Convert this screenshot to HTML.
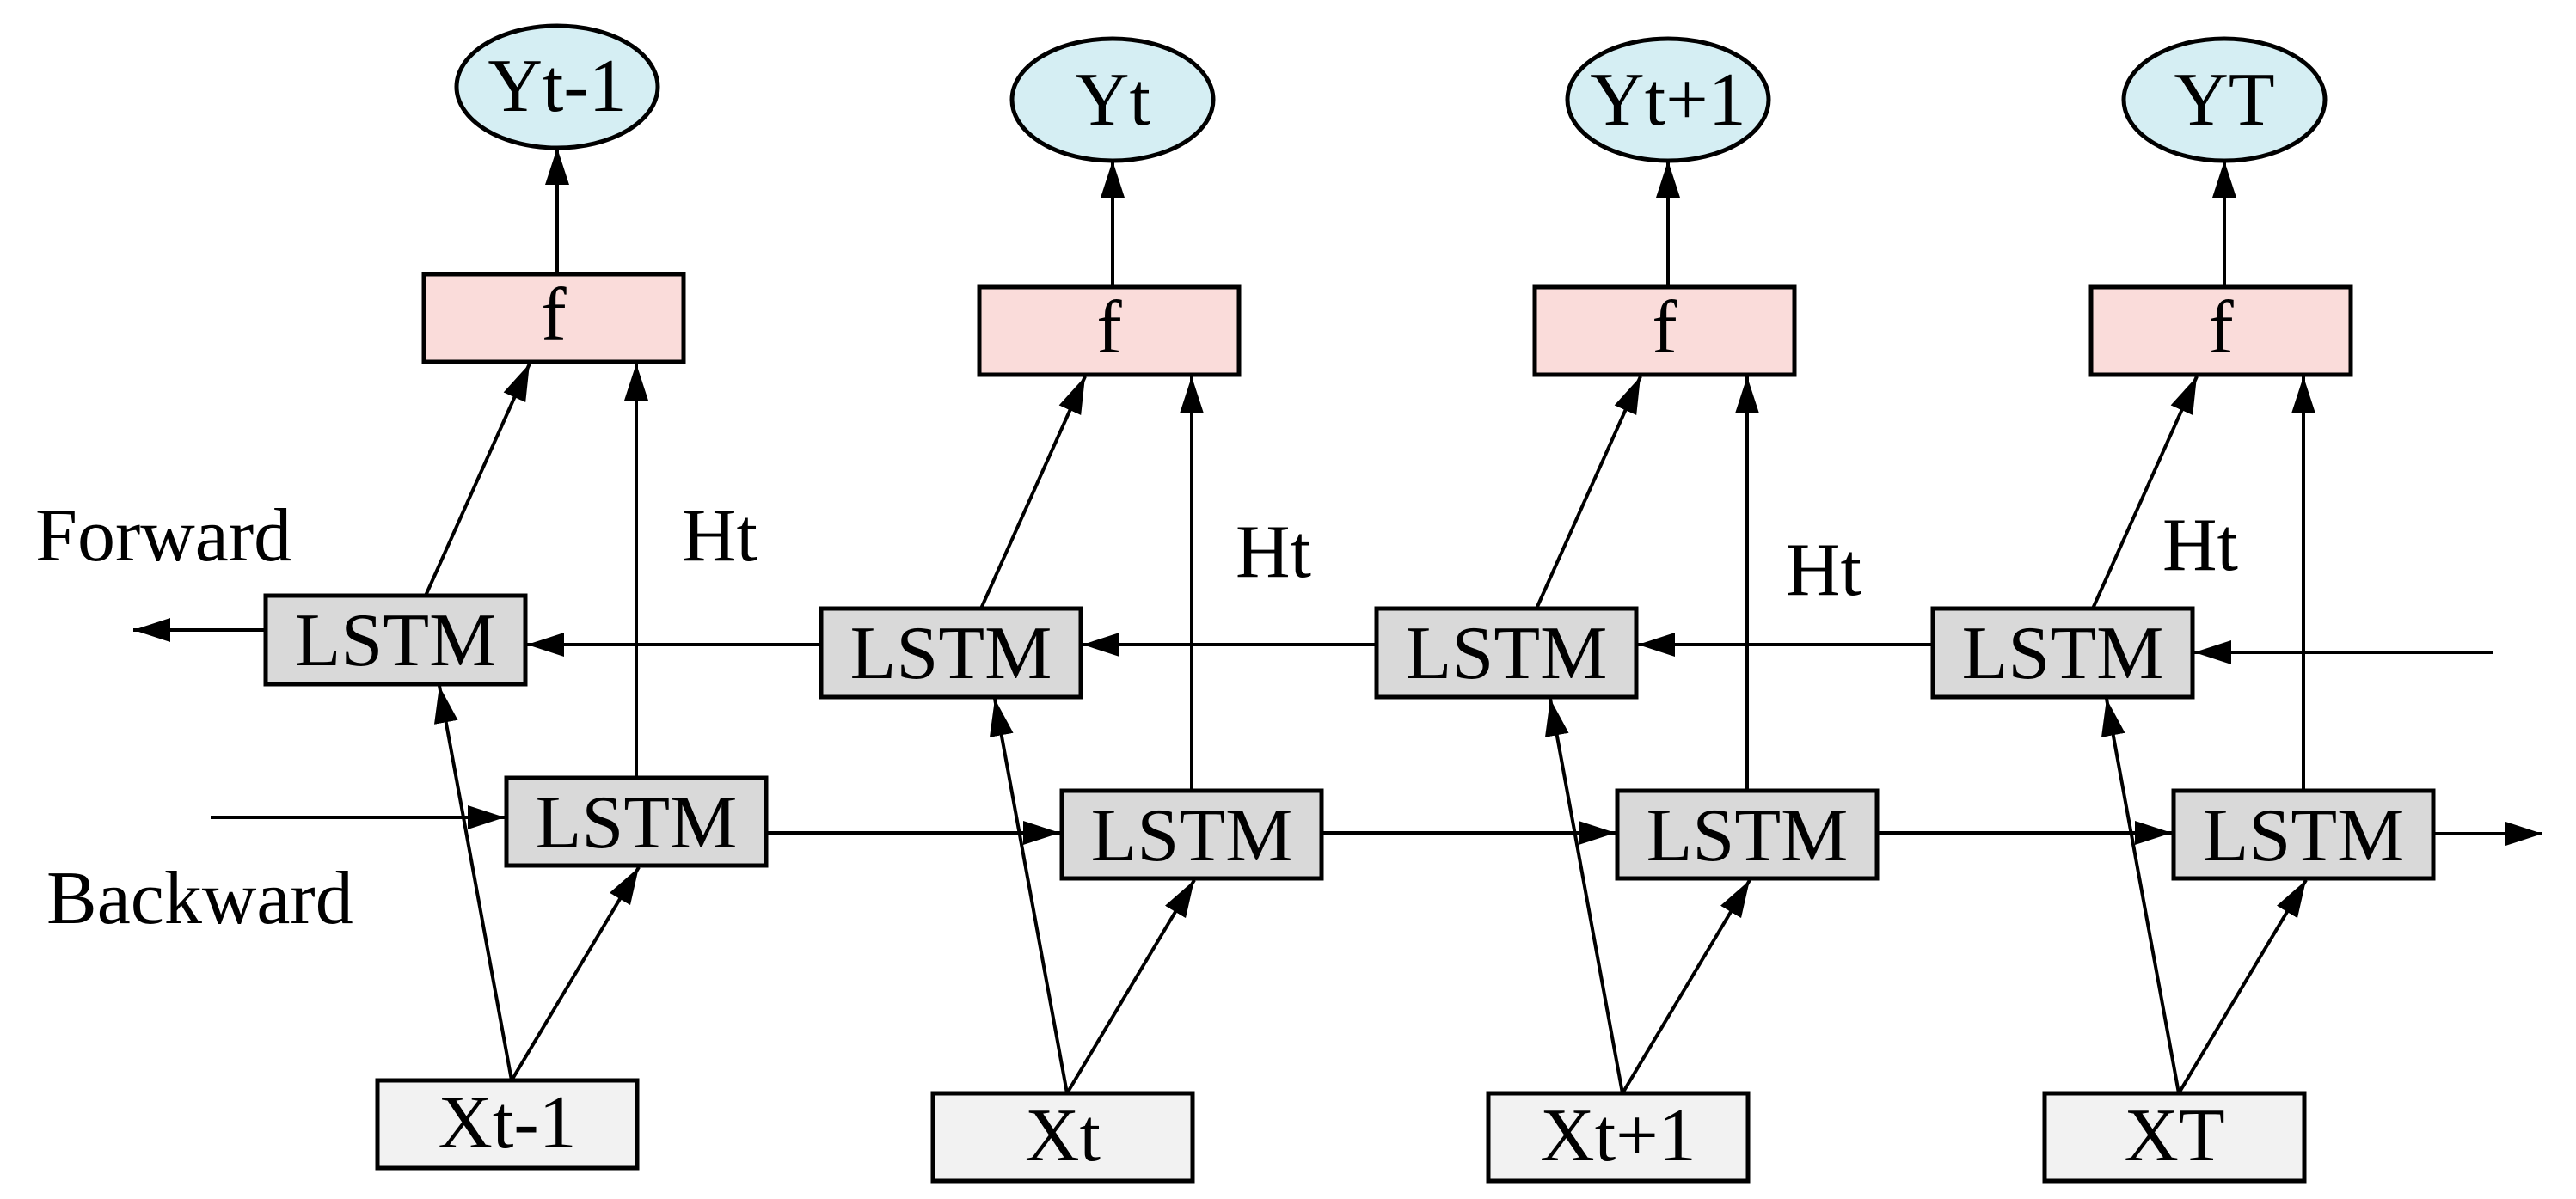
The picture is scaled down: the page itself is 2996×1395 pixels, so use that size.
<!DOCTYPE html>
<html><head><meta charset="utf-8"><style>
html,body{margin:0;padding:0;background:#fff}
svg{display:block}
text{font-family:"Liberation Serif","Times New Roman",serif;font-size:88px;fill:#000}
</style></head><body>
<svg width="2996" height="1395" viewBox="0 0 2996 1395" xmlns="http://www.w3.org/2000/svg">
<defs>
<marker id="a" markerUnits="userSpaceOnUse" markerWidth="44" markerHeight="30" refX="43" refY="14" orient="auto">
<path d="M0,0 L43,14 L0,28 Z" fill="#000"/>
</marker>
</defs>
<g stroke="#000" stroke-width="5">
<!-- ellipses -->
<ellipse cx="648" cy="101" rx="117" ry="71" fill="#d5eef3"/>
<ellipse cx="1294" cy="116" rx="117" ry="71" fill="#d5eef3"/>
<ellipse cx="1940" cy="116" rx="117" ry="71" fill="#d5eef3"/>
<ellipse cx="2587" cy="116" rx="117" ry="71" fill="#d5eef3"/>
<!-- f boxes -->
<rect x="493" y="319" width="302" height="102" fill="#fadcda"/>
<rect x="1139" y="334" width="302" height="102" fill="#fadcda"/>
<rect x="1785" y="334" width="302" height="102" fill="#fadcda"/>
<rect x="2432" y="334" width="302" height="102" fill="#fadcda"/>
<!-- forward LSTM -->
<rect x="309" y="693" width="302" height="103" fill="#d9d9d9"/>
<rect x="955" y="708" width="302" height="103" fill="#d9d9d9"/>
<rect x="1601" y="708" width="302" height="103" fill="#d9d9d9"/>
<rect x="2248" y="708" width="302" height="103" fill="#d9d9d9"/>
<!-- backward LSTM -->
<rect x="589" y="905" width="302" height="102" fill="#d9d9d9"/>
<rect x="1235" y="920" width="302" height="102" fill="#d9d9d9"/>
<rect x="1881" y="920" width="302" height="102" fill="#d9d9d9"/>
<rect x="2528" y="920" width="302" height="102" fill="#d9d9d9"/>
<!-- X boxes -->
<rect x="439" y="1257" width="302" height="102" fill="#f2f2f2"/>
<rect x="1085" y="1272" width="302" height="102" fill="#f2f2f2"/>
<rect x="1731" y="1272" width="302" height="102" fill="#f2f2f2"/>
<rect x="2378" y="1272" width="302" height="102" fill="#f2f2f2"/>
</g>
<g stroke="#000" stroke-width="4" fill="none" marker-end="url(#a)">
<!-- f -> Y -->
<line x1="648" y1="319" x2="648" y2="172"/>
<line x1="1294" y1="334" x2="1294" y2="187"/>
<line x1="1940" y1="334" x2="1940" y2="187"/>
<line x1="2587" y1="334" x2="2587" y2="187"/>
<!-- forward LSTM -> f -->
<line x1="495" y1="693" x2="616" y2="423"/>
<line x1="1141" y1="708" x2="1262" y2="438"/>
<line x1="1787" y1="708" x2="1908" y2="438"/>
<line x1="2434" y1="708" x2="2555" y2="438"/>
<!-- backward LSTM -> f -->
<line x1="740" y1="905" x2="740" y2="423"/>
<line x1="1386" y1="920" x2="1386" y2="438"/>
<line x1="2032" y1="920" x2="2032" y2="438"/>
<line x1="2679" y1="920" x2="2679" y2="438"/>
<!-- X -> forward -->
<line x1="595" y1="1257" x2="511" y2="798"/>
<line x1="1241" y1="1272" x2="1157" y2="813"/>
<line x1="1887" y1="1272" x2="1803" y2="813"/>
<line x1="2534" y1="1272" x2="2450" y2="813"/>
<!-- X -> backward -->
<line x1="595" y1="1257" x2="743" y2="1009"/>
<line x1="1241" y1="1272" x2="1389" y2="1024"/>
<line x1="1887" y1="1272" x2="2035" y2="1024"/>
<line x1="2534" y1="1272" x2="2682" y2="1024"/>
<!-- forward horizontal -->
<line x1="309" y1="733" x2="155" y2="733"/>
<line x1="955" y1="750" x2="613" y2="750"/>
<line x1="1601" y1="750" x2="1259" y2="750"/>
<line x1="2248" y1="750" x2="1905" y2="750"/>
<line x1="2899" y1="759" x2="2552" y2="759"/>
<!-- backward horizontal -->
<line x1="245" y1="951" x2="587" y2="951"/>
<line x1="891" y1="969" x2="1233" y2="969"/>
<line x1="1537" y1="969" x2="1879" y2="969"/>
<line x1="2183" y1="969" x2="2526" y2="969"/>
<line x1="2830" y1="970" x2="2957" y2="970"/>
</g>
<g text-anchor="middle">
<text x="648" y="129">Yt-1</text>
<text x="1294" y="145">Yt</text>
<text x="1940" y="145">Yt+1</text>
<text x="2587" y="145">YT</text>
<text x="644" y="395">f</text>
<text x="1290" y="410">f</text>
<text x="1936" y="410">f</text>
<text x="2583" y="410">f</text>
<text x="460" y="774">LSTM</text>
<text x="1106" y="789">LSTM</text>
<text x="1752" y="789">LSTM</text>
<text x="2399" y="789">LSTM</text>
<text x="740" y="986">LSTM</text>
<text x="1386" y="1001">LSTM</text>
<text x="2032" y="1001">LSTM</text>
<text x="2679" y="1001">LSTM</text>
<text x="590" y="1335">Xt-1</text>
<text x="1236" y="1350">Xt</text>
<text x="1882" y="1350">Xt+1</text>
<text x="2529" y="1350">XT</text>
</g>
<text x="41" y="652">Forward</text>
<text x="54" y="1074">Backward</text>
<text x="793" y="652">Ht</text>
<text x="1437" y="671">Ht</text>
<text x="2077" y="692">Ht</text>
<text x="2515" y="663">Ht</text>
</svg>
</body></html>
